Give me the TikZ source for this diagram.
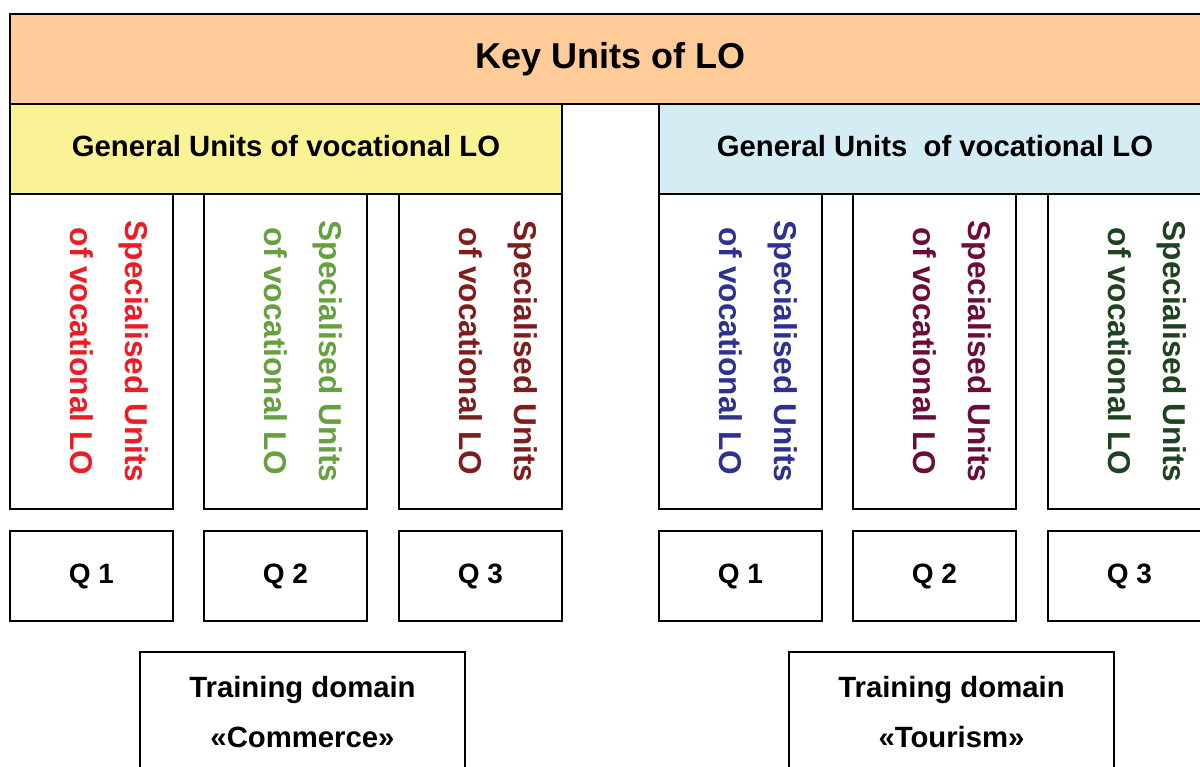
\documentclass[tikz,border=0pt]{standalone}
\usepackage{fontspec}
\setmainfont{Liberation Sans}
\definecolor{keyfill}{HTML}{FFCC99}
\definecolor{genAfill}{HTML}{FAF396}
\definecolor{genBfill}{HTML}{D4ECF4}
\definecolor{cRed}{HTML}{ED1C24}
\definecolor{cGreen}{HTML}{66A03F}
\definecolor{cDarkRed}{HTML}{7F1D1D}
\definecolor{cBlue}{HTML}{2E3192}
\definecolor{cMaroon}{HTML}{6B0D3B}
\definecolor{cDarkGreen}{HTML}{1F4320}
\tikzset{
  box/.style={draw=black, line width=1.5pt, rectangle, inner sep=0pt, fill=white},
  bandbox/.style={box, minimum width=552pt, minimum height=90pt, text depth=7pt,
    font=\bfseries\fontsize{29.3}{34}\selectfont},
  specbox/.style={box, minimum width=163pt, minimum height=315pt},
  spectext/.style={inner sep=0pt, rotate=-90, align=center,
    font=\bfseries\fontsize{31.6}{55}\selectfont},
  qbox/.style={box, minimum width=163pt, minimum height=90pt,
    font=\bfseries\fontsize{28}{32}\selectfont},
  domainbox/.style={box, minimum width=325pt, minimum height=120pt, align=center,
    font=\bfseries\fontsize{29.3}{50}\selectfont}
}
\begin{document}
\begin{tikzpicture}[x=1pt,y=-1pt]
\useasboundingbox (0,0) rectangle (1200,767);
\fill[white] (0,0) rectangle (1200,767);
\clip (0,0) rectangle (1200,767);

% top band
\node[box, fill=keyfill, minimum width=1201pt, minimum height=90pt,
  font=\bfseries\fontsize{36}{40}\selectfont] (key) at (610.5,59) {Key Units of LO};

% general units
\node[bandbox, fill=genAfill] (genA) at (286,149) {General Units of vocational LO};
\node[bandbox, fill=genBfill] (genB) at (935,149) {General Units\ \ of vocational LO};

% specialised units boxes
\node[specbox] (sA1) at (91.5,351.5) {};
\node[specbox] (sA2) at (285.5,351.5) {};
\node[specbox] (sA3) at (480.5,351.5) {};
\node[specbox] (sB1) at (740.5,351.5) {};
\node[specbox] (sB2) at (934.5,351.5) {};
\node[specbox] (sB3) at (1129.5,351.5) {};

\node[spectext, text=cRed]       (tA1) at ([xshift=17.5pt]sA1.center) {Specialised Units\\of vocational LO};
\node[spectext, text=cGreen]     (tA2) at ([xshift=17.5pt]sA2.center) {Specialised Units\\of vocational LO};
\node[spectext, text=cDarkRed]   (tA3) at ([xshift=17.5pt]sA3.center) {Specialised Units\\of vocational LO};
\node[spectext, text=cBlue]      (tB1) at ([xshift=17.5pt]sB1.center) {Specialised Units\\of vocational LO};
\node[spectext, text=cMaroon]    (tB2) at ([xshift=17.5pt]sB2.center) {Specialised Units\\of vocational LO};
\node[spectext, text=cDarkGreen] (tB3) at ([xshift=17.5pt]sB3.center) {Specialised Units\\of vocational LO};

% qualifications
\node[qbox] (qA1) at (91.5,576) {Q 1};
\node[qbox] (qA2) at (285.5,576) {Q 2};
\node[qbox] (qA3) at (480.5,576) {Q 3};
\node[qbox] (qB1) at (740.5,576) {Q 1};
\node[qbox] (qB2) at (934.5,576) {Q 2};
\node[qbox] (qB3) at (1129.5,576) {Q 3};

% training domains
\node[domainbox] (domA) at (302.5,712) {Training domain\\«Commerce»};
\node[domainbox] (domB) at (951.5,712) {Training domain\\«Tourism»};
\end{tikzpicture}
\end{document}
